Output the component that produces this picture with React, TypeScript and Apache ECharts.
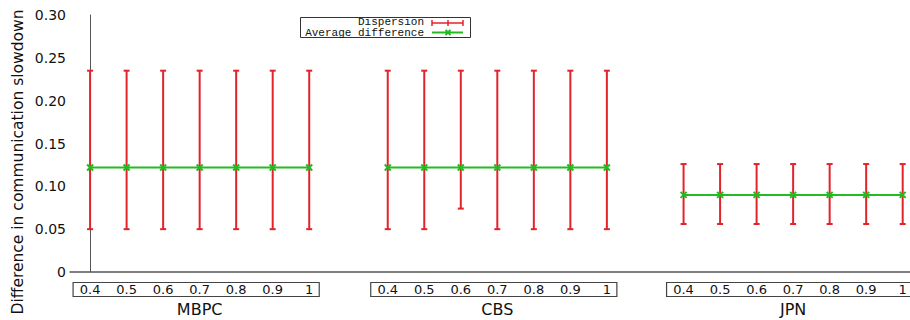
import React, { useEffect, useRef } from "react";
import * as echarts from "echarts";

// ---- data ----
const groups = ["MBPC", "CBS", "JPN"];
const loadLabels = ["0.4", "0.5", "0.6", "0.7", "0.8", "0.9", "1"];
const yTitle = "Difference in communication slowdown";

const mbpcAvg = [0.122, 0.122, 0.122, 0.122, 0.122, 0.122, 0.122];
const mbpcLow = [0.05, 0.05, 0.05, 0.05, 0.05, 0.05, 0.05];
const mbpcHigh = [0.235, 0.235, 0.235, 0.235, 0.235, 0.235, 0.235];

const cbsAvg = [0.122, 0.122, 0.122, 0.122, 0.122, 0.122, 0.122];
const cbsLow = [0.05, 0.05, 0.074, 0.05, 0.05, 0.05, 0.05];
const cbsHigh = [0.235, 0.235, 0.235, 0.235, 0.235, 0.235, 0.235];

const jpnAvg = [0.09, 0.09, 0.09, 0.09, 0.09, 0.09, 0.09];
const jpnLow = [0.056, 0.056, 0.056, 0.056, 0.056, 0.056, 0.056];
const jpnHigh = [0.126, 0.126, 0.126, 0.126, 0.126, 0.126, 0.126];

// layout: start position of each group on the numeric x axis
const groupOffsets = [0, 8.15, 16.25];

const RED = "#e3232b";
const GREEN = "#22bb22";
const FONT = "DejaVu Sans";
const MONO = "Liberation Mono";

export default function App() {
  const ref = useRef<HTMLDivElement>(null);

  useEffect(() => {
    if (!ref.current) return;
    const chart = echarts.init(ref.current, null, { renderer: "svg" });

    const avgs = [mbpcAvg, cbsAvg, jpnAvg];
    const lows = [mbpcLow, cbsLow, jpnLow];
    const highs = [mbpcHigh, cbsHigh, jpnHigh];

    const barData: number[][] = [];
    const markData: number[][] = [];
    const lineSeries: any[] = [];
    groups.forEach((g, gi) => {
      const pts: number[][] = [];
      loadLabels.forEach((_, k) => {
        const x = groupOffsets[gi] + k;
        barData.push([x, lows[gi][k], highs[gi][k]]);
        markData.push([x, avgs[gi][k]]);
        pts.push([x, avgs[gi][k]]);
      });
      lineSeries.push({
        type: "line",
        name: "Average difference " + g,
        data: pts,
        symbol: "none",
        lineStyle: { color: GREEN, width: 2 },
        z: 3,
      });
    });

    chart.setOption({
      animation: false,
      grid: { left: 70, right: 0, top: 15, bottom: 48, outerBoundsMode: "none", containLabel: false },
      xAxis: {
        type: "value",
        min: -0.55,
        max: 22.45,
        axisLine: { show: true, lineStyle: { color: "#555", width: 1.5 } },
        axisTick: { show: false },
        axisLabel: { show: false },
        splitLine: { show: false },
      },
      yAxis: {
        type: "value",
        min: 0,
        max: 0.3,
        interval: 0.05,
        axisLine: { show: true, lineStyle: { color: "#555", width: 1 } },
        axisTick: { show: false },
        splitLine: { show: false },
        axisLabel: {
          fontFamily: FONT,
          fontSize: 14,
          color: "#111",
          margin: 4,
          formatter: (v: number) => (v === 0 ? "0" : v.toFixed(2)),
        },
      },
      series: [
        {
          type: "custom",
          name: "Dispersion",
          data: barData,
          z: 2,
          renderItem: (params: any, api: any) => {
            const x = api.value(0);
            const lo = api.coord([x, api.value(1)]);
            const hi = api.coord([x, api.value(2)]);
            const st = { stroke: RED, lineWidth: 2 };
            const c = 3;
            return {
              type: "group",
              children: [
                { type: "line", shape: { x1: lo[0], y1: lo[1], x2: hi[0], y2: hi[1] }, style: st },
                { type: "line", shape: { x1: hi[0] - c, y1: hi[1], x2: hi[0] + c, y2: hi[1] }, style: st },
                { type: "line", shape: { x1: lo[0] - c, y1: lo[1], x2: lo[0] + c, y2: lo[1] }, style: st },
              ],
            };
          },
        },
        ...lineSeries,
        {
          type: "custom",
          name: "Average difference",
          data: markData,
          z: 4,
          renderItem: (params: any, api: any) => {
            const p = api.coord([api.value(0), api.value(1)]);
            const s = 3;
            const st = { stroke: GREEN, lineWidth: 2 };
            return {
              type: "group",
              children: [
                { type: "line", shape: { x1: p[0] - s, y1: p[1] - s, x2: p[0] + s, y2: p[1] + s }, style: st },
                { type: "line", shape: { x1: p[0] - s, y1: p[1] + s, x2: p[0] + s, y2: p[1] - s }, style: st },
              ],
            };
          },
        },
      ],
    });

    const graphics: any[] = [];
    // y axis title
    graphics.push({
      type: "text",
      x: 18,
      y: 162,
      rotation: Math.PI / 2,
      style: { text: yTitle, fontFamily: FONT, fontSize: 15.5, fill: "#111", align: "center", verticalAlign: "middle" },
    });

    // boxed category labels under the axis
    groups.forEach((g, gi) => {
      const first = chart.convertToPixel({ gridIndex: 0 }, [groupOffsets[gi], 0]) as number[];
      const last = chart.convertToPixel({ gridIndex: 0 }, [groupOffsets[gi] + 6, 0]) as number[];
      const mid = chart.convertToPixel({ gridIndex: 0 }, [groupOffsets[gi] + 3, 0]) as number[];
      graphics.push({
        type: "rect",
        shape: { x: first[0] - 17, y: 282.5, width: last[0] + 10 - (first[0] - 17), height: 14 },
        style: { fill: "none", stroke: "#444", lineWidth: 1.2 },
      });
      loadLabels.forEach((lab, k) => {
        const p = chart.convertToPixel({ gridIndex: 0 }, [groupOffsets[gi] + k, 0]) as number[];
        graphics.push({
          type: "text",
          x: p[0],
          y: 289.5,
          style: { text: lab, fontFamily: FONT, fontSize: 13, fill: "#111", align: "center", verticalAlign: "middle" },
        });
      });
      graphics.push({
        type: "text",
        x: mid[0],
        y: 309,
        style: { text: g, fontFamily: FONT, fontSize: 16, fill: "#111", align: "center", verticalAlign: "middle" },
      });
    });

    // legend box (gnuplot style)
    graphics.push(
      { type: "rect", shape: { x: 300.5, y: 17.5, width: 170, height: 20 }, style: { fill: "#fff", stroke: "#333", lineWidth: 1 } },
      {
        type: "text",
        x: 424,
        y: 22.3,
        style: { text: "Dispersion", fontFamily: MONO, fontSize: 11, fill: "#111", align: "right", verticalAlign: "middle" },
      },
      {
        type: "text",
        x: 424,
        y: 33,
        style: { text: "Average difference", fontFamily: MONO, fontSize: 11, fill: "#111", align: "right", verticalAlign: "middle" },
      },
      { type: "line", shape: { x1: 432, y1: 23, x2: 463, y2: 23 }, style: { stroke: RED, lineWidth: 1.5 } },
      { type: "line", shape: { x1: 432, y1: 20, x2: 432, y2: 26 }, style: { stroke: RED, lineWidth: 1.5 } },
      { type: "line", shape: { x1: 448, y1: 20, x2: 448, y2: 26 }, style: { stroke: RED, lineWidth: 1.5 } },
      { type: "line", shape: { x1: 463, y1: 20, x2: 463, y2: 26 }, style: { stroke: RED, lineWidth: 1.5 } },
      { type: "line", shape: { x1: 432, y1: 32.5, x2: 463, y2: 32.5 }, style: { stroke: GREEN, lineWidth: 2 } },
      { type: "line", shape: { x1: 445.5, y1: 30, x2: 450.5, y2: 35 }, style: { stroke: GREEN, lineWidth: 2 } },
      { type: "line", shape: { x1: 445.5, y1: 35, x2: 450.5, y2: 30 }, style: { stroke: GREEN, lineWidth: 2 } }
    );

    chart.setOption({ graphic: graphics });

    return () => chart.dispose();
  }, []);

  return (
    <div
      ref={ref}
      style={{ position: "fixed", left: 0, top: 0, width: 910, height: 320, background: "#fff" }}
    />
  );
}
